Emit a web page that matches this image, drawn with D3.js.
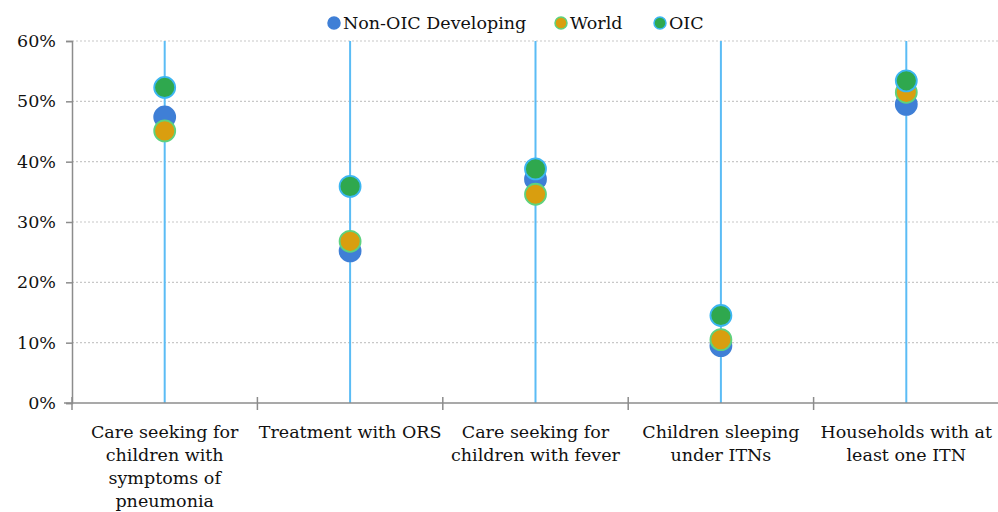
<!DOCTYPE html>
<html><head><meta charset="utf-8">
<script src="https://cdn.jsdelivr.net/npm/d3@7"></script>
<style>body{margin:0;background:#fff}svg{display:block}</style>
</head><body>
<svg id="c" width="998" height="512"></svg>
<script>
const categories = [
  ["Care seeking for","children with","symptoms of","pneumonia"],
  ["Treatment with ORS"],
  ["Care seeking for","children with fever"],
  ["Children sleeping","under ITNs"],
  ["Households with at","least one ITN"]
];
const seriesNames = ["Non-OIC Developing","World","OIC"];
const nonOIC = [47.4, 25.2, 37.1, 9.5, 49.5];
const world  = [45.1, 26.8, 34.6, 10.5, 51.5];
const oic    = [52.3, 35.9, 38.8, 14.5, 53.4];
const yTicks = [0,10,20,30,40,50,60];
const fills = ["#3f7fd6","#d99e0f","#2fa84e"];
const strokes = ["#3f7fd6","#5ed27e","#3cb6f2"];
const series = [nonOIC, world, oic];
const font = "'DejaVu Serif', serif";
const fs = 17.5;

const svg = d3.select("#c");
const m = {l:72, r:999, t:41, b:403};
const x = d3.scaleBand().domain(d3.range(categories.length)).range([m.l, m.r]);
const y = d3.scaleLinear().domain([0,60]).range([m.b, m.t]);

// gridlines
svg.append("g").selectAll("line").data(yTicks.filter(d=>d>0)).join("line")
  .attr("x1", m.l).attr("x2", m.r).attr("y1", d=>y(d)).attr("y2", d=>y(d))
  .attr("stroke","#c8c8c8").attr("stroke-width",1.2).attr("stroke-dasharray","2,2");

// y axis
const ya = svg.append("g").attr("transform",`translate(${m.l},0)`)
  .call(d3.axisLeft(y).tickValues(yTicks).tickFormat(d=>d+"%").tickSize(6).tickPadding(10));
ya.select(".domain").attr("stroke","#8c8c8c").attr("stroke-width",1.5);
ya.selectAll(".tick line").attr("stroke","#8c8c8c").attr("stroke-width",1.5);
ya.selectAll("text").attr("font-family",font).attr("font-size",fs).attr("fill","#111");

// vertical drop lines
svg.append("g").selectAll("line").data(d3.range(categories.length)).join("line")
  .attr("x1", d=>x(d)+x.bandwidth()/2).attr("x2", d=>x(d)+x.bandwidth()/2)
  .attr("y1", m.t).attr("y2", m.b)
  .attr("stroke","#5bbcf5").attr("stroke-width",2);

// x axis
const xa = svg.append("g").attr("transform",`translate(0,${m.b})`);
xa.append("line").attr("x1",m.l-8).attr("x2",m.r).attr("y1",0).attr("y2",0)
  .attr("stroke","#8c8c8c").attr("stroke-width",1.5);
const bounds = d3.range(categories.length+1).map(i=> i<categories.length ? x(i) : x(i-1)+x.bandwidth());
xa.selectAll("line.t").data(bounds).join("line").attr("class","t")
  .attr("x1",d=>d).attr("x2",d=>d).attr("y1",-6).attr("y2",7)
  .attr("stroke","#8c8c8c").attr("stroke-width",1.5);
const lab = xa.selectAll("text.l").data(categories).join("text").attr("class","l")
  .attr("x",(d,i)=>x(i)+x.bandwidth()/2).attr("y",35)
  .attr("text-anchor","middle").attr("font-family",font).attr("font-size",fs).attr("fill","#111");
lab.selectAll("tspan").data(d=>d).join("tspan")
  .attr("x",function(){return this.parentNode.getAttribute("x");})
  .attr("dy",(d,i)=>i===0?0:23).text(d=>d);

// points
series.forEach((vals, s)=>{
  svg.append("g").selectAll("circle").data(vals).join("circle")
    .attr("cx",(d,i)=>x(i)+x.bandwidth()/2).attr("cy",d=>y(d)).attr("r",10.5)
    .attr("fill",fills[s]).attr("stroke",strokes[s]).attr("stroke-width",1.8);
});

// legend
const legX = [334, 561, 660];
const lg = svg.append("g");
seriesNames.forEach((n,i)=>{
  lg.append("circle").attr("cx",legX[i]).attr("cy",23).attr("r",6)
    .attr("fill",fills[i]).attr("stroke",strokes[i]).attr("stroke-width",1.5);
  lg.append("text").attr("x",legX[i]+9).attr("y",29).attr("font-family",font)
    .attr("font-size",fs).attr("fill","#111").text(n);
});
</script>
</body></html>
